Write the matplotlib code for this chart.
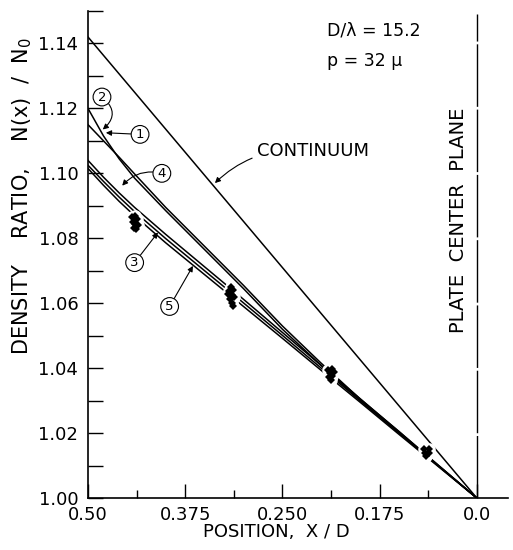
import matplotlib
matplotlib.use('Agg')
import matplotlib.pyplot as plt
from matplotlib.ticker import FixedLocator, MultipleLocator

# density profiles between the wall (x/D = 0.5) and the plate center plane
x_grid = [0.50, 0.48, 0.46, 0.44, 0.40, 0.35, 0.30, 0.25, 0.20, 0.15, 0.10, 0.05, 0.00]
curve_1 = [1.1150, 1.1100, 1.1050, 1.0998, 1.0895, 1.0775, 1.0655, 1.0530, 1.0415, 1.0305, 1.0205, 1.0102, 1.0000]
curve_2 = [1.1200, 1.1115, 1.1045, 1.0985, 1.0885, 1.0765, 1.0645, 1.0520, 1.0408, 1.0300, 1.0201, 1.0100, 1.0000]
curve_3 = [1.1025, 1.0975, 1.0927, 1.0882, 1.0799, 1.0700, 1.0601, 1.0501, 1.0400, 1.0300, 1.0200, 1.0100, 1.0000]
curve_4 = [1.1040, 1.0988, 1.0940, 1.0895, 1.0812, 1.0712, 1.0612, 1.0510, 1.0408, 1.0306, 1.0204, 1.0102, 1.0000]
curve_5 = [1.1015, 1.0963, 1.0914, 1.0869, 1.0786, 1.0688, 1.0590, 1.0492, 1.0393, 1.0295, 1.0196, 1.0098, 1.0000]

continuum_x = [0.50, 0.00]
continuum_y = [1.142, 1.000]

# measured points, four stations
meas_x = [0.444, 0.440, 0.437, 0.442, 0.439, 0.436, 0.441, 0.438,
          0.316, 0.318, 0.313, 0.320, 0.315, 0.312, 0.317, 0.315, 0.314,
          0.191, 0.186, 0.189, 0.184, 0.190, 0.186, 0.188,
          0.068, 0.062, 0.067, 0.061, 0.065]
meas_y = [1.0865, 1.0870, 1.0860, 1.0850, 1.0845, 1.0840, 1.0832, 1.0828,
          1.0650, 1.0638, 1.0640, 1.0628, 1.0625, 1.0620, 1.0612, 1.0600, 1.0590,
          1.0395, 1.0398, 1.0385, 1.0388, 1.0372, 1.0375, 1.0362,
          1.0150, 1.0150, 1.0138, 1.0138, 1.0130]

x_ticks = [0.50, 0.375, 0.250, 0.125, 0.0]
x_ticklabels = ['0.50', '0.375', '0.250', '0.175', '0.0']
y_ticks = [1.00, 1.02, 1.04, 1.06, 1.08, 1.10, 1.12, 1.14]

plt.rcParams['font.family'] = 'DejaVu Sans'

fig = plt.figure(figsize=(5.13, 5.5), dpi=100)
ax = fig.add_axes([0.1715, 0.0945, 0.8185, 0.8855])

ax.plot(continuum_x, continuum_y, color='black', lw=1.1)
for c in (curve_1, curve_2, curve_3, curve_4, curve_5):
    ax.plot(x_grid, c, color='black', lw=1.1)

# white halo breaks the curves around the data, then the points on top
ax.plot(meas_x, meas_y, 'o', ms=5, color='white', mec='white', mew=4, zorder=3)
ax.plot(meas_x, meas_y, 'D', ms=3.6, color='black', mew=0, zorder=4)

# plate center plane
ax.plot([0.0, 0.0], [1.0, 1.149], color='black', lw=1.0, dashes=(45, 2))
ax.text(0.0235, 1.0855, 'PLATE  CENTER  PLANE', rotation=90, ha='center', va='center', fontsize=14)

ax.set_xlim(0.5, -0.04)
ax.set_ylim(1.0, 1.15)

for side in ('top', 'right'):
    ax.spines[side].set_visible(False)
ax.spines['left'].set_linewidth(1.2)
ax.spines['bottom'].set_linewidth(1.2)

ax.xaxis.set_major_locator(FixedLocator(x_ticks))
ax.set_xticklabels(x_ticklabels)
ax.xaxis.set_minor_locator(FixedLocator([0.4375, 0.3125, 0.1875, 0.0625]))
ax.yaxis.set_major_locator(FixedLocator(y_ticks))
ax.yaxis.set_minor_locator(MultipleLocator(0.01))
ax.set_yticklabels(['%.2f' % v for v in y_ticks])
ax.tick_params(axis='x', which='major', direction='in', length=10, width=1.0, labelsize=13, pad=6)
ax.tick_params(axis='x', which='minor', direction='in', length=6, width=1.0)
ax.tick_params(axis='y', which='both', direction='in', length=11, width=1.0, labelsize=13, pad=7)

ax.set_xlabel('POSITION,  X / D', fontsize=13)
ax.xaxis.set_label_coords(0.448, -0.052)
ax.set_ylabel('DENSITY    RATIO,    N(x)  /  N$_0$', fontsize=15)
ax.yaxis.set_label_coords(-0.128, 0.62)

ax.text(0.193, 1.1425, 'D/\u03bb = 15.2', fontsize=12.5)
ax.text(0.193, 1.1330, 'p = 32 \u03bc', fontsize=12.5)

arrow = dict(arrowstyle='-|>', color='black', lw=0.8, mutation_scale=8)
ax.annotate('CONTINUUM', xy=(0.3393, 1.0964), xytext=(0.282, 1.1068),
            fontsize=13, va='center', ha='left',
            arrowprops=dict(arrow, connectionstyle='arc3,rad=0.25'))

circ = dict(boxstyle='circle,pad=0.18', fc='white', ec='black', lw=0.8)
labels = [
    ('2', (0.481, 1.1135), (0.482, 1.1235), 'arc3,rad=-0.6'),
    ('1', (0.477, 1.1125), (0.433, 1.1120), 'arc3,rad=0'),
    ('4', (0.456, 1.0962), (0.405, 1.1000), 'arc3,rad=0.3'),
    ('3', (0.410, 1.0818), (0.440, 1.0725), 'arc3,rad=0'),
    ('5', (0.365, 1.0715), (0.395, 1.0590), 'arc3,rad=0'),
]
for txt, tip, pos, cs in labels:
    ax.annotate(txt, xy=tip, xytext=pos, fontsize=9.5, ha='center', va='center',
                bbox=circ, arrowprops=dict(arrow, connectionstyle=cs, shrinkA=0, shrinkB=0))

fig.savefig('out.png', dpi=100)
